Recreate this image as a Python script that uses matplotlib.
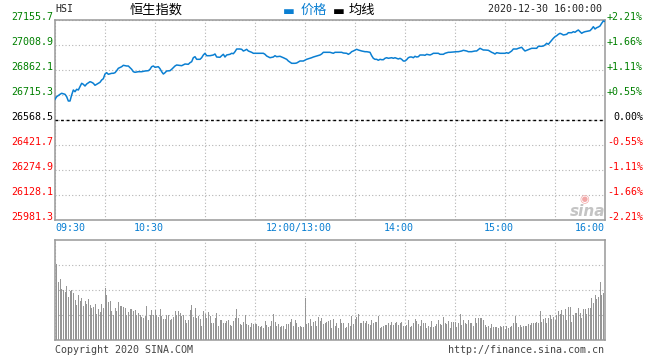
import numpy as np
import matplotlib
matplotlib.use("Agg")
import matplotlib.pyplot as plt

# minutes since 09:30 (lunch 12:00-13:00 left out), and the index level
t_min = [0, 1, 3, 4, 6, 7, 8, 9, 10, 11, 12, 13, 14, 15, 16, 17, 18, 19, 21, 22,
         23, 24, 26, 27, 28, 29, 30, 31, 32, 34, 35, 36, 37, 38, 40, 41, 43, 44, 46, 47,
         48, 50, 52, 54, 56, 57, 58, 59, 60, 62, 63, 64, 65, 66, 67, 69, 70, 72, 73, 76,
         78, 80, 81, 82, 83, 84, 85, 87, 88, 89, 90, 91, 93, 95, 96, 97, 99, 100, 101, 102,
         103, 105, 106, 107, 108, 109, 111, 112, 113, 114, 115, 116, 118, 119, 121, 123, 125, 126, 127, 129,
         131, 132, 133, 135, 137, 139, 140, 142, 144, 145, 147, 148, 149, 151, 153, 154, 155, 157, 159, 160,
         161, 163, 165, 167, 168, 170, 172, 173, 175, 176, 177, 178, 179, 181, 182, 184, 186, 187, 189, 190,
         191, 192, 193, 194, 195, 196, 197, 198, 199, 200, 202, 203, 204, 206, 207, 208, 209, 210, 211, 212,
         213, 214, 215, 216, 217, 218, 219, 221, 222, 223, 225, 226, 227, 229, 230, 231, 233, 234, 236, 237,
         239, 241, 242, 244, 245, 247, 248, 250, 252, 253, 254, 255, 257, 258, 260, 262, 263, 264, 265, 267,
         268, 270, 271, 272, 274, 275, 277, 278, 280, 281, 282, 283, 284, 286, 288, 289, 290, 292, 293, 294,
         295, 296, 297, 298, 299, 300, 301, 302, 303, 304, 305, 307, 308, 310, 311, 312, 313, 314, 315, 316,
         317, 318, 320, 321, 322, 323, 324, 325, 326, 327, 328, 329, 330]
price = [26690.1, 26705.3, 26719.4, 26725.3, 26719.4, 26705.3, 26680.1, 26680.1, 26715.3, 26744.7,
         26734.7, 26748.8, 26744.7, 26764.0, 26784.0, 26778.1, 26768.1, 26779.9, 26793.4, 26789.9,
         26784.0, 26772.3, 26784.0, 26789.9, 26803.4, 26811.0, 26838.6, 26846.2, 26836.9, 26842.7,
         26842.7, 26846.2, 26858.0, 26872.1, 26881.5, 26889.7, 26885.6, 26885.6, 26866.2, 26852.1,
         26848.6, 26852.1, 26852.1, 26856.2, 26858.0, 26866.2, 26881.5, 26885.6, 26878.0, 26881.5,
         26869.7, 26852.1, 26838.6, 26846.2, 26856.2, 26858.0, 26866.2, 26885.6, 26891.5, 26887.4,
         26897.3, 26895.6, 26905.0, 26910.8, 26934.3, 26940.2, 26924.9, 26924.9, 26934.3, 26950.2,
         26960.2, 26946.1, 26946.1, 26950.2, 26956.1, 26938.4, 26936.7, 26946.1, 26954.3, 26938.4,
         26950.2, 26954.3, 26960.2, 26957.8, 26969.6, 26985.4, 26985.4, 26983.6, 26973.7, 26977.8,
         26983.6, 26973.7, 26966.0, 26960.2, 26960.2, 26960.2, 26960.2, 26954.3, 26944.3, 26934.3,
         26938.4, 26946.1, 26940.2, 26942.6, 26934.3, 26924.9, 26914.9, 26901.4, 26901.4, 26903.2,
         26914.9, 26914.9, 26914.9, 26924.9, 26930.8, 26934.3, 26938.4, 26944.3, 26950.2, 26956.1,
         26966.0, 26966.0, 26966.0, 26960.2, 26966.0, 26966.0, 26966.0, 26961.9, 26960.2, 26954.3,
         26960.2, 26969.6, 26973.7, 26983.7, 26979.5, 26973.7, 26969.6, 26969.6, 26966.0, 26946.1,
         26930.8, 26924.9, 26924.9, 26919.1, 26924.9, 26922.6, 26922.6, 26930.8, 26934.3, 26930.8,
         26934.3, 26930.8, 26934.3, 26926.7, 26930.8, 26924.9, 26914.9, 26914.9, 26922.6, 26934.3,
         26938.4, 26938.4, 26934.3, 26942.6, 26938.4, 26940.2, 26950.2, 26950.2, 26948.4, 26954.3,
         26950.2, 26954.3, 26960.2, 26960.2, 26960.2, 26954.3, 26954.3, 26960.2, 26966.0, 26966.0,
         26967.8, 26969.6, 26969.6, 26973.7, 26977.8, 26973.7, 26969.6, 26969.6, 26973.7, 26973.7,
         26981.3, 26989.5, 26979.5, 26979.5, 26977.8, 26966.0, 26961.9, 26956.1, 26963.7, 26960.2,
         26960.2, 26960.2, 26963.7, 26960.2, 26973.7, 26985.4, 26985.4, 26989.5, 26995.4, 26983.6,
         26973.7, 26977.8, 26981.3, 26989.5, 26989.5, 26989.5, 27001.3, 27001.3, 27003.0, 27008.9,
         27018.9, 27013.0, 27024.8, 27036.5, 27048.2, 27057.6, 27063.5, 27071.7, 27077.6, 27073.5,
         27067.6, 27071.7, 27081.1, 27081.1, 27087.0, 27083.5, 27091.1, 27097.0, 27087.0, 27077.6,
         27083.5, 27087.0, 27091.1, 27092.9, 27102.9, 27116.4, 27102.9, 27110.5, 27114.6, 27120.5,
         27136.3, 27149.8, 27147.0]

# volume, one bar per minute starting 09:31 (relative units, panel top = 100)
volume = [76, 58, 61, 51, 50, 48, 54, 43, 49, 50, 47, 40, 35, 45, 39, 42, 34, 39, 36, 41,
          35, 32, 33, 36, 26, 31, 28, 36, 32, 52, 45, 38, 39, 29, 25, 32, 29, 38, 34, 34,
          33, 32, 25, 28, 31, 31, 29, 30, 25, 27, 25, 23, 22, 24, 34, 20, 25, 30, 25, 30,
          25, 23, 31, 24, 21, 21, 25, 25, 20, 21, 23, 29, 25, 29, 27, 24, 25, 20, 17, 20,
          30, 35, 23, 32, 22, 24, 21, 14, 29, 26, 22, 28, 24, 17, 17, 22, 27, 14, 20, 20,
          17, 17, 19, 20, 15, 14, 19, 22, 31, 22, 16, 15, 18, 25, 16, 15, 13, 17, 16, 16,
          16, 14, 13, 14, 12, 19, 15, 13, 14, 19, 26, 18, 14, 16, 13, 14, 14, 11, 16, 16,
          18, 21, 14, 20, 17, 13, 14, 13, 13, 42, 16, 17, 21, 14, 18, 19, 14, 23, 19, 22,
          16, 17, 18,
          19, 20, 12, 21, 14, 17, 12, 21, 17, 17, 12, 13, 17, 14, 24, 16, 21, 23, 26, 17,
          17, 19, 17, 19, 16, 15, 20, 17, 18, 18, 24, 12, 13, 14, 15, 15, 17, 15, 18, 15,
          17, 18, 15, 17, 18, 14, 14, 15, 20, 13, 14, 17, 21, 19, 16, 14, 20, 17, 17, 12,
          14, 13, 19, 13, 14, 16, 20, 16, 15, 23, 17, 16, 19, 12, 18, 18, 18, 13, 17, 26,
          15, 20, 17, 16, 20, 17, 17, 14, 22, 17, 22, 22, 22, 20, 15, 13, 14, 12, 16, 13,
          13, 13, 12, 14, 13, 14, 11, 14, 12, 13, 14, 17, 24, 17, 13, 15, 13, 14, 14, 14,
          16, 15, 17, 17, 17, 18, 17, 29, 18, 21, 22, 17, 22, 25, 21, 23, 20, 25, 29, 26,
          30, 25, 31, 20, 33, 33, 18, 25, 27, 27, 32, 27, 22, 31, 31, 26, 32, 32, 42, 37,
          45, 41, 43, 58, 45, 47]

prev_close = 26568.5
y_ticks = [25981.3, 26128.1, 26274.9, 26421.7, 26568.5, 26715.3, 26862.1, 27008.9, 27155.7]
x_ticks = [0, 60, 150, 210, 270, 330]
x_labels = ["09:30", "10:30", "12:00/13:00", "14:00", "15:00", "16:00"]

W, H = 660, 360
mono = "DejaVu Sans Mono"
cjk = ["Noto Sans CJK SC", "DejaVu Sans"]
blue = "#0a7fd2"
green = "#008000"
red = "#ff0000"
grid_kw = dict(color="#b4b4b4", linestyle=(0, (1, 2)), linewidth=0.8)

fig = plt.figure(figsize=(W / 100, H / 100), dpi=100)
ax = fig.add_axes([55 / W, 140 / H, 550 / W, 200 / H])
axv = fig.add_axes([55 / W, 20 / H, 550 / W, 100 / H])

# price line + previous close
ax.plot(t_min, price, color=blue, lw=1.1, zorder=4)
ax.axhline(prev_close, color="black", lw=1.0, linestyle=(0, (2, 2)), zorder=3)
ax.set_xlim(0, 330)
ax.set_ylim(y_ticks[0], y_ticks[-1])
ax.set_yticks(y_ticks)

# volume bars
axv.bar(np.arange(1, len(volume) + 1), volume, width=0.6, color="#969696",
        linewidth=0, antialiased=False)
axv.set_xlim(0, 330)
axv.set_ylim(0, 100)
axv.set_yticks([25, 50, 75])

for a in (ax, axv):
    a.set_xticks(np.arange(0, 331, 30))
    a.set_axisbelow(True)
    a.grid(**grid_kw)
    a.tick_params(length=0, labelbottom=False, labelleft=False)
    for s in a.spines.values():
        s.set_color("#999999")
        s.set_linewidth(1.1)

# y labels: level on the left, change in percent on the right
for v in y_ticks:
    if v > prev_close:
        c = green
    elif v < prev_close:
        c = red
    else:
        c = "black"
    ax.annotate(f"{v:.1f}", xy=(0, v), xycoords=ax.get_yaxis_transform(),
                xytext=(-2, 0), textcoords="offset pixels", ha="right", va="baseline",
                color=c, fontsize=7.2, family=mono)
    pct = (v - prev_close) / prev_close * 100
    txt = "0.00%" if abs(pct) < 0.005 else f"{pct:+.2f}%"
    ax.annotate(txt, xy=(1, v), xycoords=ax.get_yaxis_transform(),
                xytext=(38, 0), textcoords="offset pixels", ha="right", va="baseline",
                color=c, fontsize=7.2, family=mono)

# time labels
for i, (m, lab) in enumerate(zip(x_ticks, x_labels)):
    if i == 0:
        ha, dx = "left", 0
    elif i == len(x_ticks) - 1:
        ha, dx = "right", 0
    else:
        ha, dx = "center", -6
    ax.annotate(lab, xy=(m, 0), xycoords=("data", "axes fraction"),
                xytext=(dx, -3), textcoords="offset pixels", ha=ha, va="top",
                color=blue, fontsize=7.2, family=mono)

# header
def fy(ypx):
    return 1 - ypx / H

fig.text(55 / W, fy(9), "HSI", ha="left", va="center", fontsize=7.2, family=mono, color="#222222")
fig.text(130 / W, fy(10), "恒生指数", ha="left", va="center", fontsize=9.5, family=cjk, color="black")
fig.text(283 / W, fy(11), "▬", ha="left", va="center", fontsize=9, family="DejaVu Sans", color=blue)
fig.text(301 / W, fy(10), "价格", ha="left", va="center", fontsize=9.5, family=cjk, color=blue)
fig.text(333 / W, fy(11), "▬", ha="left", va="center", fontsize=9, family="DejaVu Sans", color="black")
fig.text(349 / W, fy(10), "均线", ha="left", va="center", fontsize=9.5, family=cjk, color="black")
fig.text(602 / W, fy(9), "2020-12-30 16:00:00", ha="right", va="center", fontsize=7.2,
         family=mono, color="#222222")

# footer
fig.text(55 / W, fy(350), "Copyright 2020 SINA.COM", ha="left", va="center", fontsize=7.2,
         family=mono, color="#444444")
fig.text(604 / W, fy(350), "http://finance.sina.com.cn", ha="right", va="center", fontsize=7.2,
         family=mono, color="#444444")

# sina watermark
fig.text(584 / W, fy(199), "◉", ha="center", va="center", fontsize=8, family="DejaVu Sans",
         color="#f2a7a7")
fig.text(588 / W, fy(211), "sina", ha="center", va="center", fontsize=11, style="italic",
         weight="bold", family="DejaVu Sans", color="#c4c4c4")

fig.savefig("out.png", dpi=100)
